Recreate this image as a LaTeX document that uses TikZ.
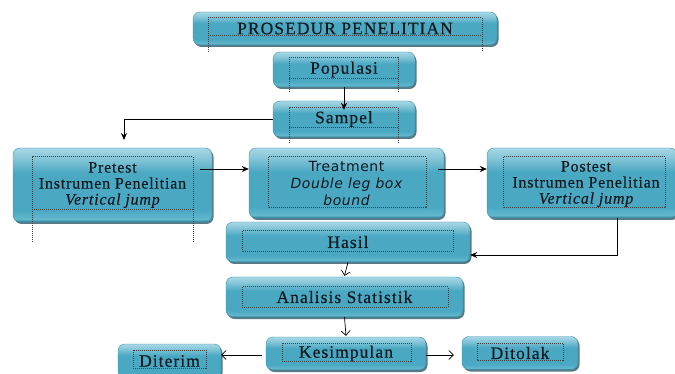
\documentclass[tikz,border=0pt]{standalone}
\usepackage{fontspec}
\setmainfont{Liberation Serif}
\newfontfamily\fntA{Liberation Serif}[LetterSpace=6,FakeBold=0.4]
\newfontfamily\fntB{Liberation Serif}[LetterSpace=5,FakeBold=0.3]
\newfontfamily\fntC{DejaVu Sans}[LetterSpace=4]
\usetikzlibrary{shadows,arrows.meta,calc}
\definecolor{tE}{HTML}{2B7D97}
\definecolor{tB}{HTML}{62B8CE}
\definecolor{tM}{HTML}{4AA8C3}
\definecolor{tT}{HTML}{86C6D8}
\definecolor{tTT}{HTML}{A8D8E6}
\definecolor{tealedge}{HTML}{3A8FA8}
\definecolor{shadowc}{HTML}{1F4F5E}
\definecolor{txt}{HTML}{101A20}
\definecolor{dotc}{HTML}{3A3F42}
\pgfdeclareverticalshading{tealgrad}{100bp}{color(0bp)=(tE); color(25bp)=(tE); color(27bp)=(tB); color(33bp)=(tM); color(58bp)=(tM); color(68bp)=(tT); color(75bp)=(tTT); color(100bp)=(tTT)}
\begin{document}
\begin{tikzpicture}[x=1pt,y=-1pt,
  box/.style={rounded corners=7pt, shade, shading=tealgrad, draw=tealedge, line width=0.4pt,
    drop shadow={shadow xshift=1.5pt, shadow yshift=-2pt, fill=shadowc, opacity=0.75},
    text=txt, inner sep=0pt, align=center},
  dots/.style={draw=dotc, dash pattern=on 1pt off 1pt, line width=1pt},
  arrB/.style={draw=black, line width=0.8pt, -{Stealth[length=7pt,width=6pt]}},
  arrL/.style={draw=black, line width=0.7pt, -{Straight Barb[length=4.5pt,width=9pt]}},
  fBig/.style={font=\fntA\fontsize{17.5}{20}\selectfont},
  fMid/.style={font=\fntB\fontsize{16}{16}\selectfont},
  fSans/.style={font=\fntC\fontsize{14}{17}\selectfont},
  txtnode/.style={text=txt, inner sep=0pt, align=center}
]
\useasboundingbox (0,0) rectangle (675,374);

% boxes
\node[box, fBig, minimum width=304pt, minimum height=33pt] (title) at (345,28.5) {PROSEDUR PENELITIAN};
\node[box, fBig, minimum width=142pt, minimum height=35pt] (pop) at (344,69.5) {Populasi};
\node[box, fBig, minimum width=142pt, minimum height=36pt] (samp) at (344,119) {Sampel};
\node[box, fMid, minimum width=199pt, minimum height=74pt] (pre) at (112.5,185) {Pretest\\Instrumen Penelitian\\\itshape Vertical jump};
\node[box, fSans, minimum width=195pt, minimum height=70pt] (treat) at (346.5,183) {Treatment\\\itshape Double leg box\\\itshape bound};
\node[box, minimum width=190pt, minimum height=70pt] (post) at (582,183) {};
\node[txtnode, fMid] (postT) at (586,184) {Postest\\Instrumen Penelitian\\\itshape Vertical jump};
\node[box, fBig, minimum width=244pt, minimum height=40pt] (hasil) at (348,242) {Hasil};
\node[box, fBig, minimum width=237pt, minimum height=40pt] (anal) at (344.5,297) {Analisis Statistik};
\node[box, fBig, minimum width=160pt, minimum height=33pt] (kes) at (346,353.5) {Kesimpulan};
\node[box, fBig, minimum width=103pt, minimum height=34pt] (dit) at (169.5,361) {Diterim};
\node[box, fBig, minimum width=116pt, minimum height=33pt] (tol) at (520,353) {Ditolak};

% dotted text frames
\draw[dots] (208,52) -- (208,18) -- (482,18) -- (482,52) (208,36) -- (482,36);
\draw[dots] (289,92) -- (289,58) -- (398,58) -- (398,92) (289,79) -- (398,79);
\draw[dots] (289,143) -- (289,108) -- (398,108) -- (398,143) (289,128) -- (398,128);
\draw[dots] (32,242) -- (32,157) -- (193,157) -- (193,242) (32,210) -- (193,210);
\draw[dots] (268,157) rectangle (426,208);
\draw[dots] (503,157) rectangle (665,208);
\draw[dots] (242,231) rectangle (453,252);
\draw[dots] (242,287) rectangle (448,307);
\draw[dots] (282,343) rectangle (411,361);
\draw[dots] (133,350) rectangle (206,368);
\draw[dots] (477,343) rectangle (563,360);

% connectors
\coordinate (c1) at (124,119);
\coordinate (c2) at (124,140);
\coordinate (a1) at (200,169);
\coordinate (a2) at (438,169);
\coordinate (c3) at (617,255);
\draw[arrB] (pop.south) -- ([yshift=-9pt]samp.north);
\draw[arrB] (samp.west) -- (c1) -- (c2);
\draw[arrB] (a1) -- (treat.west |- a1);
\draw[arrB] (a2) -- (post.west |- a2);
\draw[arrB] (c3 |- post.south) -- (c3) -- (hasil.east |- c3);
\draw[arrL] (hasil.south) -- ([yshift=1pt]anal.north);
\draw[arrL] (anal.south) -- ([yshift=1pt]kes.north);
\draw[arrL] ([xshift=-4pt,yshift=-1.5pt]kes.west) -- ([yshift=-1.5pt]kes.west -| dit.east);
\draw[arrL] ([yshift=-1.5pt]kes.east) -- ([xshift=-8pt,yshift=-1.5pt]kes.east -| tol.west);
\end{tikzpicture}
\end{document}
